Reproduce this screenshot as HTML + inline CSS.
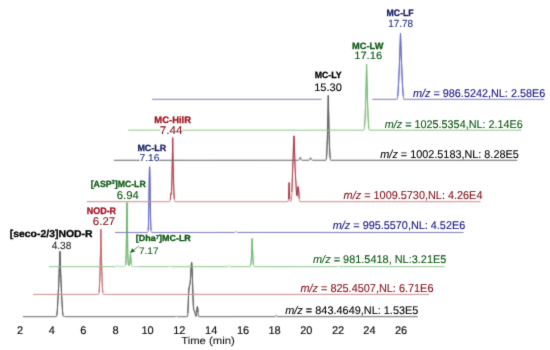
<!DOCTYPE html>
<html><head><meta charset="utf-8"><style>
html,body{margin:0;padding:0;background:#fff;width:550px;height:350px;overflow:hidden}
svg{display:block}
text{font-family:"Liberation Sans",sans-serif;text-rendering:geometricPrecision}
</style></head><body>
<svg width="550" height="350" viewBox="0 0 550 350">
<defs>
<filter id="lb" filterUnits="userSpaceOnUse" x="0" y="0" width="550" height="350"><feConvolveMatrix order="3" edgeMode="none" kernelMatrix="0.0256 0.1088 0.0256 0.1088 0.4624 0.1088 0.0256 0.1088 0.0256"/></filter>
<filter id="tb" filterUnits="userSpaceOnUse" x="0" y="0" width="550" height="350"><feConvolveMatrix order="3" edgeMode="none" kernelMatrix="0.0100 0.0800 0.0100 0.0800 0.6400 0.0800 0.0100 0.0800 0.0100"/></filter>
</defs>
<rect width="550" height="350" fill="#fff"/>
<g fill="none" stroke-width="1.0" filter="url(#lb)">
<path d="M22.90,316.70 L56.50,316.70 L56.70,316.36 L56.90,314.91 L57.10,312.85 L57.30,310.32 L57.50,307.40 L57.70,304.13 L57.90,300.55 L58.10,296.69 L58.30,292.56 L58.50,288.17 L58.70,283.55 L58.90,278.70 L59.10,273.64 L59.30,268.37 L59.50,262.90 L59.70,257.24 L59.90,251.40 L60.10,257.24 L60.30,262.90 L60.50,268.37 L60.70,273.64 L60.90,278.70 L61.10,283.55 L61.30,288.17 L61.50,292.55 L61.70,296.69 L61.90,300.55 L62.10,304.13 L62.30,307.40 L62.50,310.31 L62.70,312.83 L62.90,314.87 L63.10,316.24 L63.30,316.44 L63.50,316.22 L63.70,316.00 L63.90,315.90 L64.10,316.00 L64.30,316.22 L64.50,316.44 L64.70,316.59 L64.90,316.66 L65.10,316.69 L175.30,316.69 L175.50,316.66 L175.70,316.59 L175.90,316.44 L176.10,316.22 L176.30,316.00 L176.50,315.90 L176.70,316.00 L176.90,316.22 L177.10,316.44 L177.30,316.59 L177.50,316.66 L177.70,316.69 L186.60,316.70 L187.60,316.50 L187.90,313.00 L188.20,305.00 L188.50,295.00 L188.90,289.00 L189.60,285.50 L190.10,283.50 L190.50,279.00 L190.90,272.00 L191.30,265.00 L191.60,262.30 L191.90,265.00 L192.20,272.00 L192.50,280.00 L192.80,290.00 L193.10,300.00 L193.40,306.00 L193.70,309.80 L194.20,310.60 L194.70,311.20 L195.10,313.50 L195.60,316.30 L196.30,316.30 L196.80,312.00 L197.10,308.00 L197.40,306.60 L197.70,308.00 L198.00,312.00 L198.40,316.20 L199.20,316.70 L274.90,316.68 L275.10,316.66 L275.30,316.58 L275.50,316.39 L275.70,316.06 L275.90,315.65 L276.10,315.34 L276.20,315.30 L276.30,315.34 L276.50,315.65 L276.70,316.06 L276.90,316.39 L277.10,316.58 L277.30,316.66 L277.50,316.68 L417.90,316.70" stroke="#646464"/>
<path d="M56.90,314.91 L57.10,312.85 L57.30,310.32 L57.50,307.40 L57.70,304.13 L57.90,300.55 L58.10,296.69 L58.30,292.56 L58.50,288.17 L58.70,283.55 L58.90,278.70 L59.10,273.64 L59.30,268.37 L59.50,262.90 L59.70,257.24 L59.90,251.40 L60.10,257.24 L60.30,262.90 L60.50,268.37 L60.70,273.64 L60.90,278.70 L61.10,283.55 L61.30,288.17 L61.50,292.55 L61.70,296.69 L61.90,300.55 L62.10,304.13 L62.30,307.40 L62.50,310.31 L62.70,312.83 L62.90,314.87 M187.90,313.00 L188.20,305.00 L188.50,295.00 L188.90,289.00 L189.60,285.50 L190.10,283.50 L190.50,279.00 L190.90,272.00 L191.30,265.00 L191.60,262.30 L191.90,265.00 L192.20,272.00 L192.50,280.00 L192.80,290.00 L193.10,300.00 L193.40,306.00 L193.70,309.80 L194.20,310.60 L194.70,311.20 L195.10,313.50 M196.80,312.00 L197.10,308.00 L197.40,306.60 L197.70,308.00 L198.00,312.00" stroke="#5a5a5a"/>
<path d="M33.20,294.40 L98.40,294.40 L98.60,294.34 L98.80,293.73 L99.00,292.33 L99.20,290.06 L99.40,286.86 L99.60,282.68 L99.80,277.48 L100.00,271.22 L100.20,263.87 L100.40,255.40 L100.60,245.80 L100.80,235.03 L100.90,229.20 L101.00,235.03 L101.20,245.80 L101.40,255.40 L101.60,263.87 L101.80,271.22 L102.00,277.48 L102.20,282.68 L102.40,286.86 L102.60,290.06 L102.80,292.33 L103.00,293.73 L103.20,294.34 L103.40,294.40 L429.20,294.40" stroke="#cc898c"/>
<path d="M99.00,292.33 L99.20,290.06 L99.40,286.86 L99.60,282.68 L99.80,277.48 L100.00,271.22 L100.20,263.87 L100.40,255.40 L100.60,245.80 L100.80,235.03 L100.90,229.20 L101.00,235.03 L101.20,245.80 L101.40,255.40 L101.60,263.87 L101.80,271.22 L102.00,277.48 L102.20,282.68 L102.40,286.86 L102.60,290.06 L102.80,292.33" stroke="#c2646c"/>
<path d="M48.80,266.70 L114.42,266.68 L114.62,266.68 L114.82,266.68 L115.02,266.68 L115.22,266.68 L115.42,266.67 L115.62,266.67 L115.82,266.67 L116.02,266.65 L116.22,266.62 L116.42,266.55 L116.62,266.42 L116.82,266.20 L117.02,265.92 L117.22,265.65 L117.42,265.49 L117.50,265.47 L117.62,265.50 L117.82,265.69 L118.02,265.97 L118.22,266.23 L118.42,266.43 L118.62,266.55 L118.82,266.61 L119.02,266.64 L119.22,266.64 L119.42,266.65 L119.62,266.65 L119.82,266.64 L120.02,266.64 L120.22,266.64 L120.42,266.64 L120.62,266.63 L120.82,266.63 L121.02,266.62 L121.22,266.62 L121.42,266.61 L121.62,266.61 L121.82,266.60 L122.02,266.59 L122.22,266.58 L122.42,266.57 L122.62,266.56 L122.82,266.55 L123.02,266.53 L123.22,266.51 L123.42,266.49 L123.62,266.47 L123.82,266.44 L124.02,266.40 L124.22,266.36 L124.42,266.31 L124.62,266.25 L124.82,266.16 L125.02,266.05 L125.22,265.89 L125.42,265.61 L125.62,264.97 L125.82,263.34 L126.02,259.44 L126.22,251.53 L126.42,238.57 L126.62,222.17 L126.82,207.71 L127.00,202.50 L127.02,202.57 L127.22,210.05 L127.42,225.47 L127.62,241.51 L127.82,253.49 L128.02,260.47 L128.22,263.79 L128.42,265.15 L128.62,265.69 L128.82,265.93 L129.02,266.08 L129.22,265.93 L129.42,265.05 L129.62,263.69 L129.82,261.95 L130.02,259.87 L130.22,257.48 L130.42,254.82 L130.50,253.68 L130.62,255.42 L130.82,258.08 L131.02,260.45 L131.22,262.53 L131.42,264.26 L131.62,265.61 L131.82,266.46 L132.02,266.59 L132.22,266.60 L132.42,266.61 L132.62,266.62 L132.82,266.62 L133.02,266.63 L133.22,266.63 L133.42,266.63 L133.62,266.64 L133.82,266.64 L134.02,266.65 L134.22,266.65 L134.42,266.65 L134.62,266.65 L134.82,266.66 L135.02,266.66 L135.22,266.66 L135.42,266.66 L135.62,266.66 L135.82,266.67 L136.02,266.67 L136.22,266.67 L136.42,266.67 L136.62,266.67 L136.82,266.67 L137.02,266.67 L137.22,266.67 L137.42,266.68 L137.62,266.68 L137.82,266.68 L138.02,266.68 L138.22,266.68 L138.42,266.68 L138.62,266.68 L138.82,266.68 L168.83,266.68 L169.03,266.65 L169.23,266.57 L169.43,266.41 L169.63,266.18 L169.83,265.97 L170.00,265.90 L170.03,265.90 L170.23,266.02 L170.43,266.25 L170.63,266.46 L170.83,266.60 L171.03,266.66 L171.23,266.69 L227.25,266.69 L227.45,266.67 L227.65,266.64 L227.85,266.56 L228.05,266.41 L228.25,266.19 L228.45,265.91 L228.65,265.65 L228.85,265.51 L228.90,265.50 L229.05,265.55 L229.25,265.76 L229.45,266.04 L229.65,266.30 L229.85,266.49 L230.05,266.60 L230.25,266.66 L230.45,266.68 L250.25,266.70 L250.45,266.68 L250.65,266.15 L250.85,264.94 L251.05,263.02 L251.25,260.42 L251.45,257.12 L251.65,253.12 L251.85,248.43 L252.05,243.05 L252.20,238.60 L252.25,240.18 L252.45,245.90 L252.65,250.93 L252.85,255.26 L253.05,258.90 L253.25,261.84 L253.45,264.09 L253.65,265.65 L253.85,266.51 L254.05,266.70 L337.07,266.69 L337.27,266.66 L337.47,266.60 L337.67,266.46 L337.87,266.25 L338.07,266.02 L338.27,265.90 L338.30,265.90 L338.47,265.97 L338.67,266.18 L338.87,266.41 L339.07,266.57 L339.27,266.65 L339.47,266.68 L444.70,266.70" stroke="#8cc48c"/>
<path d="M125.62,264.97 L125.82,263.34 L126.02,259.44 L126.22,251.53 L126.42,238.57 L126.62,222.17 L126.82,207.71 L127.00,202.50 L127.02,202.57 L127.22,210.05 L127.42,225.47 L127.62,241.51 L127.82,253.49 L128.02,260.47 L128.22,263.79 L128.42,265.15 M129.42,265.05 L129.62,263.69 L129.82,261.95 L130.02,259.87 L130.22,257.48 L130.42,254.82 L130.50,253.68 L130.62,255.42 L130.82,258.08 L131.02,260.45 L131.22,262.53 L131.42,264.26 M250.85,264.94 L251.05,263.02 L251.25,260.42 L251.45,257.12 L251.65,253.12 L251.85,248.43 L252.05,243.05 L252.20,238.60 L252.25,240.18 L252.45,245.90 L252.65,250.93 L252.85,255.26 L253.05,258.90 L253.25,261.84 L253.45,264.09" stroke="#6cb46c"/>
<path d="M115.00,232.50 L147.20,232.50 L147.40,232.48 L147.60,232.41 L147.80,232.19 L148.00,231.55 L148.20,229.93 L148.40,226.42 L148.60,219.92 L148.80,209.69 L149.00,196.26 L149.20,182.07 L149.40,171.00 L149.60,166.80 L149.80,171.00 L150.00,182.07 L150.20,196.26 L150.40,209.69 L150.60,219.92 L150.80,226.42 L151.00,229.93 L151.20,231.55 L151.40,232.19 L151.60,232.41 L151.80,232.48 L152.00,232.50 L234.60,232.49 L234.80,232.47 L235.00,232.44 L235.20,232.36 L235.40,232.22 L235.60,232.01 L235.80,231.78 L236.00,231.58 L236.20,231.50 L236.40,231.58 L236.60,231.78 L236.80,232.01 L237.00,232.22 L237.20,232.36 L237.40,232.44 L237.60,232.47 L237.80,232.49 L463.60,232.50" stroke="#7b7bbf"/>
<path d="M148.20,229.93 L148.40,226.42 L148.60,219.92 L148.80,209.69 L149.00,196.26 L149.20,182.07 L149.40,171.00 L149.60,166.80 L149.80,171.00 L150.00,182.07 L150.20,196.26 L150.40,209.69 L150.60,219.92 L150.80,226.42 L151.00,229.93" stroke="#5e5ec4"/>
<path d="M86.90,201.70 L169.10,201.68 L169.30,201.68 L169.50,201.67 L169.70,201.65 L169.90,201.56 L170.10,201.15 L170.30,199.79 L170.50,197.16 L170.70,194.41 L170.80,193.66 L170.90,193.54 L171.10,194.33 L171.30,194.15 L171.50,191.50 L171.70,186.62 L171.90,180.02 L172.10,171.87 L172.30,162.14 L172.50,150.77 L172.70,137.68 L172.70,137.68 L172.90,150.77 L173.10,162.15 L173.30,171.89 L173.50,180.06 L173.70,186.75 L173.90,192.05 L174.10,196.05 L174.30,198.86 L174.50,200.63 L174.70,201.49 L174.90,201.70 L288.00,201.70 L288.50,199.00 L288.80,190.00 L289.10,182.60 L289.40,190.00 L289.80,199.00 L290.30,201.40 L290.90,201.50 L291.50,200.50 L291.90,192.00 L292.30,180.00 L292.70,168.00 L293.20,155.00 L293.60,143.00 L294.00,135.90 L294.30,142.00 L294.60,152.00 L294.90,162.00 L295.30,172.00 L295.70,180.00 L296.00,184.00 L296.30,190.00 L296.70,195.50 L297.10,195.80 L297.50,191.00 L297.90,187.50 L298.20,186.60 L298.50,188.00 L298.80,192.00 L299.20,198.50 L299.60,201.40 L300.20,201.70 L480.50,201.70" stroke="#cc898c"/>
<path d="M170.30,199.79 L170.50,197.16 L170.70,194.41 L170.80,193.66 L170.90,193.54 L171.10,194.33 L171.30,194.15 L171.50,191.50 L171.70,186.62 L171.90,180.02 L172.10,171.87 L172.30,162.14 L172.50,150.77 L172.70,137.68 L172.70,137.68 L172.90,150.77 L173.10,162.15 L173.30,171.89 L173.50,180.06 L173.70,186.75 L173.90,192.05 L174.10,196.05 L174.30,198.86 M288.50,199.00 L288.80,190.00 L289.10,182.60 L289.40,190.00 L289.80,199.00 M291.90,192.00 L292.30,180.00 L292.70,168.00 L293.20,155.00 L293.60,143.00 L294.00,135.90 L294.30,142.00 L294.60,152.00 L294.90,162.00 L295.30,172.00 L295.70,180.00 L296.00,184.00 L296.30,190.00 L296.70,195.50 L297.10,195.80 L297.50,191.00 L297.90,187.50 L298.20,186.60 L298.50,188.00 L298.80,192.00 L299.20,198.50" stroke="#a83444"/>
<path d="M113.90,160.30 L139.70,160.30 M159.10,160.30 L298.34,160.28 L298.54,160.28 L298.74,160.26 L298.94,160.21 L299.14,160.09 L299.34,159.84 L299.54,159.41 L299.74,158.81 L299.94,158.15 L300.14,157.64 L300.30,157.50 L300.34,157.51 L300.54,157.81 L300.74,158.40 L300.94,159.06 L301.14,159.60 L301.34,159.96 L301.54,160.15 L301.74,160.23 L301.94,160.27 L302.14,160.28 L308.74,160.28 L308.94,160.27 L309.14,160.25 L309.34,160.18 L309.54,160.02 L309.74,159.74 L309.94,159.29 L310.14,158.73 L310.34,158.20 L310.54,157.92 L310.60,157.90 L310.74,158.00 L310.94,158.41 L311.14,158.97 L311.34,159.49 L311.54,159.88 L311.74,160.10 L311.94,160.22 L312.14,160.26 L312.34,160.28 L312.54,160.29 L325.95,160.29 L326.15,159.87 L326.35,158.70 L326.55,156.68 L326.75,153.75 L326.95,149.86 L327.15,144.95 L327.35,139.01 L327.55,132.00 L327.75,123.88 L327.95,114.63 L328.15,104.23 L328.30,95.50 L328.35,98.27 L328.55,109.29 L328.75,119.14 L328.95,127.85 L329.15,135.45 L329.35,141.95 L329.55,147.40 L329.75,151.82 L329.95,155.25 L330.15,157.74 L330.35,159.35 L330.55,160.15 L330.75,160.30 L517.20,160.30" stroke="#646464"/>
<path d="M299.94,158.15 L300.14,157.64 L300.30,157.50 L300.34,157.51 L300.54,157.81 L300.74,158.40 M310.14,158.73 L310.34,158.20 L310.54,157.92 L310.60,157.90 L310.74,158.00 L310.94,158.41 M326.35,158.70 L326.55,156.68 L326.75,153.75 L326.95,149.86 L327.15,144.95 L327.35,139.01 L327.55,132.00 L327.75,123.88 L327.95,114.63 L328.15,104.23 L328.30,95.50 L328.35,98.27 L328.55,109.29 L328.75,119.14 L328.95,127.85 L329.15,135.45 L329.35,141.95 L329.55,147.40 L329.75,151.82 L329.95,155.25 L330.15,157.74" stroke="#5a5a5a"/>
<path d="M128.10,130.20 L160.60,130.20 M182.20,130.20 L363.85,130.20 L364.05,129.99 L364.25,129.07 L364.45,127.43 L364.65,125.07 L364.85,121.99 L365.05,118.18 L365.25,113.65 L365.45,108.40 L365.65,102.43 L365.85,95.73 L366.05,88.31 L366.25,80.17 L366.45,71.31 L366.60,64.40 L366.65,67.02 L366.85,76.22 L367.05,84.69 L367.25,92.44 L367.45,99.46 L367.65,105.77 L367.85,111.35 L368.05,116.20 L368.25,120.34 L368.45,123.75 L368.65,126.44 L368.86,128.41 L369.06,129.66 L369.26,130.18 L521.50,130.20" stroke="#8cc48c"/>
<path d="M364.45,127.43 L364.65,125.07 L364.85,121.99 L365.05,118.18 L365.25,113.65 L365.45,108.40 L365.65,102.43 L365.85,95.73 L366.05,88.31 L366.25,80.17 L366.45,71.31 L366.60,64.40 L366.65,67.02 L366.85,76.22 L367.05,84.69 L367.25,92.44 L367.45,99.46 L367.65,105.77 L367.85,111.35 L368.05,116.20 L368.25,120.34 L368.45,123.75 L368.65,126.44 L368.86,128.41" stroke="#6cb46c"/>
<path d="M152.10,99.30 L321.50,99.30 M372.30,99.30 L397.10,99.30 L397.30,99.05 L397.50,97.87 L397.70,96.07 L397.90,93.76 L398.10,91.02 L398.30,87.89 L398.50,84.39 L398.70,80.55 L398.90,76.39 L399.10,71.93 L399.30,67.18 L399.50,62.15 L399.70,56.84 L399.90,51.28 L400.10,45.46 L400.30,39.40 L400.50,33.10 L400.70,39.40 L400.90,45.46 L401.10,51.28 L401.30,56.84 L401.50,62.15 L401.70,67.18 L401.90,71.93 L402.10,76.39 L402.30,80.55 L402.50,84.39 L402.70,87.89 L402.90,91.02 L403.10,93.76 L403.30,96.07 L403.50,97.87 L403.70,99.05 L403.90,99.30 L544.30,99.30" stroke="#7b7bbf"/>
<path d="M397.70,96.07 L397.90,93.76 L398.10,91.02 L398.30,87.89 L398.50,84.39 L398.70,80.55 L398.90,76.39 L399.10,71.93 L399.30,67.18 L399.50,62.15 L399.70,56.84 L399.90,51.28 L400.10,45.46 L400.30,39.40 L400.50,33.10 L400.70,39.40 L400.90,45.46 L401.10,51.28 L401.30,56.84 L401.50,62.15 L401.70,67.18 L401.90,71.93 L402.10,76.39 L402.30,80.55 L402.50,84.39 L402.70,87.89 L402.90,91.02 L403.10,93.76 L403.30,96.07" stroke="#5e5ec4"/>
</g>
<g filter="url(#tb)">
<text x="285.25" y="313.55" font-size="11.07" font-weight="normal" fill="#050505" stroke="#050505" stroke-width="0.1" textLength="133.13" lengthAdjust="spacingAndGlyphs"><tspan font-style="italic">m/z</tspan> = 843.4649,NL: 1.53E5</text>
<text x="300.44" y="291.80" font-size="11.43" font-weight="normal" fill="#84101c" stroke="#84101c" stroke-width="0.1" textLength="133.02" lengthAdjust="spacingAndGlyphs"><tspan font-style="italic">m/z</tspan> = 825.4507,NL: 6.71E6</text>
<text x="313.02" y="262.50" font-size="11.14" font-weight="normal" fill="#0c5814" stroke="#0c5814" stroke-width="0.1" textLength="133.35" lengthAdjust="spacingAndGlyphs"><tspan font-style="italic">m/z</tspan> = 981.5418, NL:3.21E5</text>
<text x="332.82" y="229.10" font-size="11.29" font-weight="normal" fill="#161682" stroke="#161682" stroke-width="0.1" textLength="132.40" lengthAdjust="spacingAndGlyphs"><tspan font-style="italic">m/z</tspan> = 995.5570,NL: 4.52E6</text>
<text x="343.60" y="199.40" font-size="11.43" font-weight="normal" fill="#84101c" stroke="#84101c" stroke-width="0.1" textLength="138.85" lengthAdjust="spacingAndGlyphs"><tspan font-style="italic">m/z</tspan> = 1009.5730,NL: 4.26E4</text>
<text x="380.34" y="157.70" font-size="11.29" font-weight="normal" fill="#050505" stroke="#050505" stroke-width="0.1" textLength="138.39" lengthAdjust="spacingAndGlyphs"><tspan font-style="italic">m/z</tspan> = 1002.5183,NL: 8.28E5</text>
<text x="384.75" y="127.70" font-size="11.14" font-weight="normal" fill="#0c5814" stroke="#0c5814" stroke-width="0.1" textLength="138.06" lengthAdjust="spacingAndGlyphs"><tspan font-style="italic">m/z</tspan> = 1025.5354,NL: 2.14E6</text>
<text x="412.98" y="96.50" font-size="11.29" font-weight="normal" fill="#161682" stroke="#161682" stroke-width="0.1" textLength="132.27" lengthAdjust="spacingAndGlyphs"><tspan font-style="italic">m/z</tspan> = 986.5242,NL: 2.58E6</text>
<text x="386.61" y="16.30" font-size="9.29" font-weight="bold" fill="#1a2466" stroke="#1a2466" stroke-width="0.3" textLength="27.05" lengthAdjust="spacingAndGlyphs">MC-LF</text>
<text x="388.13" y="27.20" font-size="10.29" font-weight="normal" fill="#27307a" stroke="#27307a" stroke-width="0.1" textLength="24.80" lengthAdjust="spacingAndGlyphs">17.78</text>
<text x="352.10" y="48.90" font-size="9.14" font-weight="bold" fill="#0f5a17" stroke="#0f5a17" stroke-width="0.3" textLength="31.32" lengthAdjust="spacingAndGlyphs">MC-LW</text>
<text x="354.18" y="58.70" font-size="10.43" font-weight="normal" fill="#0c5814" stroke="#0c5814" stroke-width="0.1" textLength="27.98" lengthAdjust="spacingAndGlyphs">17.16</text>
<text x="314.77" y="77.90" font-size="9.00" font-weight="bold" fill="#050505" stroke="#050505" stroke-width="0.3" textLength="26.90" lengthAdjust="spacingAndGlyphs">MC-LY</text>
<text x="314.24" y="90.70" font-size="10.86" font-weight="normal" fill="#050505" stroke="#050505" stroke-width="0.1" textLength="27.62" lengthAdjust="spacingAndGlyphs">15.30</text>
<text x="154.33" y="122.70" font-size="9.29" font-weight="bold" fill="#9e141e" stroke="#9e141e" stroke-width="0.3" textLength="36.70" lengthAdjust="spacingAndGlyphs">MC-HilR</text>
<text x="159.74" y="134.40" font-size="11.14" font-weight="normal" fill="#84101c" stroke="#84101c" stroke-width="0.1" textLength="22.73" lengthAdjust="spacingAndGlyphs">7.44</text>
<text x="137.39" y="150.70" font-size="9.00" font-weight="bold" fill="#1a2466" stroke="#1a2466" stroke-width="0.3" textLength="28.85" lengthAdjust="spacingAndGlyphs">MC-LR</text>
<text x="139.48" y="161.40" font-size="9.71" font-weight="normal" fill="#27307a" stroke="#27307a" stroke-width="0.1" textLength="19.85" lengthAdjust="spacingAndGlyphs">7.16</text>
<text x="116.72" y="198.60" font-size="11.43" font-weight="normal" fill="#0c5814" stroke="#0c5814" stroke-width="0.1" textLength="22.04" lengthAdjust="spacingAndGlyphs">6.94</text>
<text x="86.77" y="214.10" font-size="9.57" font-weight="bold" fill="#9e141e" stroke="#9e141e" stroke-width="0.3" textLength="29.30" lengthAdjust="spacingAndGlyphs">NOD-R</text>
<text x="92.88" y="224.80" font-size="11.29" font-weight="normal" fill="#84101c" stroke="#84101c" stroke-width="0.1" textLength="22.33" lengthAdjust="spacingAndGlyphs">6.27</text>
<text x="9.73" y="236.60" font-size="10.00" font-weight="bold" fill="#050505" stroke="#050505" stroke-width="0.3" textLength="82.91" lengthAdjust="spacingAndGlyphs">[seco-2/3]NOD-R</text>
<text x="51.69" y="248.60" font-size="10.43" font-weight="normal" fill="#333333" stroke="#333333" stroke-width="0.1" textLength="19.70" lengthAdjust="spacingAndGlyphs">4.38</text>
<text x="138.93" y="253.90" font-size="9.43" font-weight="normal" fill="#0c5814" stroke="#0c5814" stroke-width="0.1" textLength="19.64" lengthAdjust="spacingAndGlyphs">7.17</text>
<text x="90.70" y="186.80" font-size="9.00" font-weight="bold" fill="#0f5a17" stroke="#0f5a17" stroke-width="0.3" textLength="55.03" lengthAdjust="spacingAndGlyphs">[ASP<tspan font-size="5.94" stroke-width="0.25" dy="-2.61">3</tspan><tspan dy="2.61">]MC-LR</tspan></text>
<text x="135.77" y="241.30" font-size="8.71" font-weight="bold" fill="#0f5a17" stroke="#0f5a17" stroke-width="0.3" textLength="55.09" lengthAdjust="spacingAndGlyphs">[Dha<tspan font-size="5.75" stroke-width="0.25" dy="-2.53">7</tspan><tspan dy="2.53">]MC-LR</tspan></text>
<text x="181.20" y="344.40" font-size="10.14" font-weight="normal" fill="#1a1a1a" stroke="#1a1a1a" stroke-width="0.1" textLength="53.65" lengthAdjust="spacingAndGlyphs">Time (min)</text>
<line x1="138.8" y1="246.1" x2="133.6" y2="250.2" stroke="#1f6f28" stroke-width="0.7"/>
<polygon points="129.9,253.1 132.1,248.2 135.3,251.4" fill="#1f6f28"/>
<text x="20.10" y="333.7" font-size="11" fill="#111" stroke="#111" stroke-width="0.15" text-anchor="middle">2</text>
<text x="51.80" y="333.7" font-size="11" fill="#111" stroke="#111" stroke-width="0.15" text-anchor="middle">4</text>
<text x="83.40" y="333.7" font-size="11" fill="#111" stroke="#111" stroke-width="0.15" text-anchor="middle">6</text>
<text x="115.60" y="333.7" font-size="11" fill="#111" stroke="#111" stroke-width="0.15" text-anchor="middle">8</text>
<text x="147.60" y="333.7" font-size="11" fill="#111" stroke="#111" stroke-width="0.15" text-anchor="middle">10</text>
<text x="179.30" y="333.7" font-size="11" fill="#111" stroke="#111" stroke-width="0.15" text-anchor="middle">12</text>
<text x="211.20" y="333.7" font-size="11" fill="#111" stroke="#111" stroke-width="0.15" text-anchor="middle">14</text>
<text x="243.00" y="333.7" font-size="11" fill="#111" stroke="#111" stroke-width="0.15" text-anchor="middle">16</text>
<text x="274.60" y="333.7" font-size="11" fill="#111" stroke="#111" stroke-width="0.15" text-anchor="middle">18</text>
<text x="306.30" y="333.7" font-size="11" fill="#111" stroke="#111" stroke-width="0.15" text-anchor="middle">20</text>
<text x="338.00" y="333.7" font-size="11" fill="#111" stroke="#111" stroke-width="0.15" text-anchor="middle">22</text>
<text x="369.40" y="333.7" font-size="11" fill="#111" stroke="#111" stroke-width="0.15" text-anchor="middle">24</text>
<text x="401.00" y="333.7" font-size="11" fill="#111" stroke="#111" stroke-width="0.15" text-anchor="middle">26</text>
</g>
</svg>
</body></html>
